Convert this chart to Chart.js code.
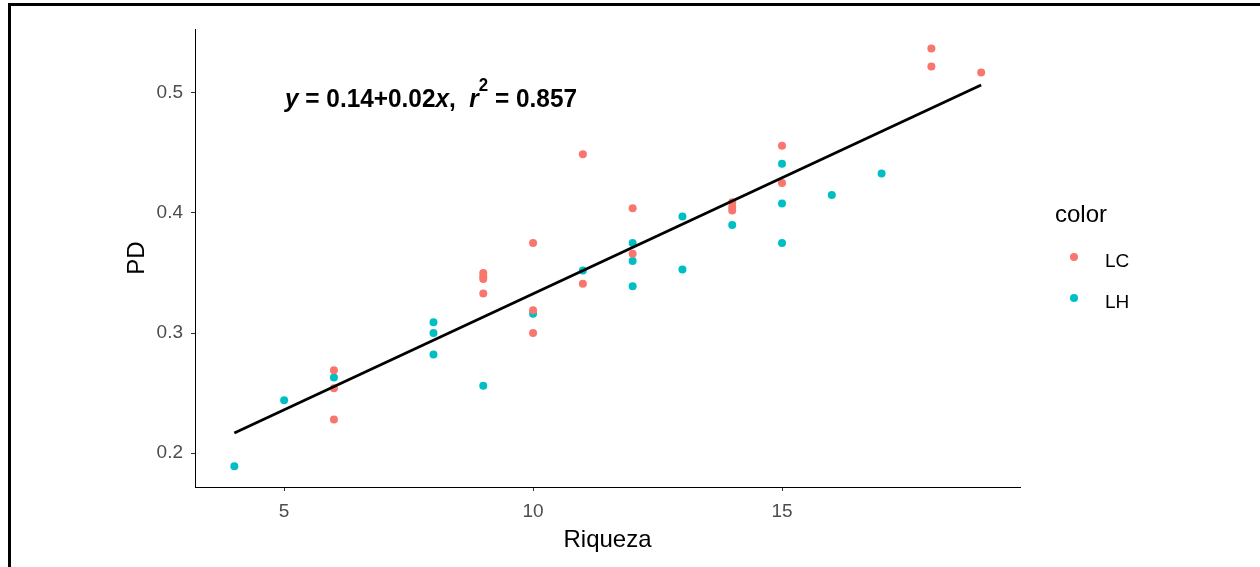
<!DOCTYPE html>
<html>
<head>
<meta charset="utf-8">
<script src="https://cdn.jsdelivr.net/npm/chart.js@4/dist/chart.umd.min.js"></script>
<style>
  html, body { margin: 0; padding: 0; background: #fff; }
</style>
</head>
<body>
<canvas id="scatter-chart" width="1260" height="567"></canvas>
<script>
// LC points (Riqueza, PD)
var lcX = [6, 6, 6, 9, 9, 9, 9, 10, 10, 10, 11, 11, 12, 12, 14, 14, 14, 15, 15, 18, 18, 19];
var lcY = [0.269, 0.254, 0.228, 0.350, 0.347, 0.345, 0.333, 0.375, 0.319, 0.300, 0.449, 0.341,
           0.404, 0.366, 0.409, 0.405, 0.402, 0.456, 0.425, 0.537, 0.522, 0.517];
// LH points
var lhX = [4, 5, 6, 8, 8, 8, 9, 10, 11, 12, 12, 12, 13, 13, 14, 15, 15, 15, 16, 17];
var lhY = [0.189, 0.244, 0.263, 0.309, 0.300, 0.282, 0.256, 0.316, 0.352, 0.375, 0.360, 0.339,
           0.397, 0.353, 0.390, 0.441, 0.408, 0.375, 0.415, 0.433];

var xTicks = [5, 10, 15];
var yTicks = [0.2, 0.3, 0.4, 0.5];

// fitted line y = a + b*x
var fitA = 0.1393;
var fitB = 0.01933;
var fitR2 = '0.857';

var allX = lcX.concat(lhX);
var xMin = Math.min.apply(null, allX);
var xMax = Math.max.apply(null, allX);

function pairs(xs, ys) {
  return xs.map(function (x, i) { return { x: x, y: ys[i] }; });
}

var tickFont = { family: 'Liberation Sans, Arial, sans-serif', size: 19 };
var titleFont = { family: 'Liberation Sans, Arial, sans-serif', size: 24 };

var overlay = {
  id: 'overlay',
  afterDraw: function (chart) {
    var ctx = chart.ctx;
    var area = chart.chartArea;
    ctx.save();

    // outer frame (top and left edges)
    ctx.fillStyle = '#000';
    ctx.fillRect(8, 3, 1252, 3);
    ctx.fillRect(8, 3, 3, 564);

    // equation label
    var parts = [
      { t: 'y', it: true }, { t: ' = ' }, { t: '0.14+0.02' }, { t: 'x', it: true },
      { t: ',  ' }, { t: 'r', it: true }, { t: '2', sup: true }, { t: ' = ' + fitR2 }
    ];
    var fam = 'Liberation Sans Narrow, Liberation Sans, Arial, sans-serif';
    function fontOf(p) {
      if (p.sup) return 'bold 18px ' + fam;
      return (p.it ? 'italic ' : '') + 'bold 26px ' + fam;
    }
    var total = 0;
    parts.forEach(function (p) { ctx.font = fontOf(p); p.w = ctx.measureText(p.t).width; total += p.w; });
    var sx = 292 / total;
    ctx.translate(area.left + 90, area.top + 78);
    ctx.scale(sx, 1);
    ctx.fillStyle = '#000';
    ctx.textBaseline = 'alphabetic';
    ctx.textAlign = 'left';
    var cx = 0;
    parts.forEach(function (p) {
      ctx.font = fontOf(p);
      ctx.fillText(p.t, cx, p.sup ? -16 : 0);
      cx += p.w;
    });
    ctx.restore();

    // legend
    var lfam = 'Liberation Sans, Arial, sans-serif';
    ctx.save();
    ctx.fillStyle = '#000';
    ctx.textAlign = 'left';
    ctx.textBaseline = 'alphabetic';
    ctx.font = '24px ' + lfam;
    ctx.fillText('color', area.right + 35, 222);
    var items = [chart.data.datasets[1], chart.data.datasets[2]];
    items.forEach(function (ds, i) {
      var y = 257 + i * 41;
      ctx.beginPath();
      ctx.arc(area.right + 54, y, 4, 0, Math.PI * 2);
      ctx.fillStyle = ds.backgroundColor;
      ctx.fill();
      ctx.fillStyle = '#000';
      ctx.font = '19px ' + lfam;
      ctx.fillText(ds.label, area.right + 85, y + 10);
    });
    ctx.restore();
  }
};

var myChart = new Chart(document.getElementById('scatter-chart'), {
  type: 'scatter',
  data: {
    datasets: [
      {
        type: 'line',
        label: 'fit',
        data: [{ x: xMin, y: fitA + fitB * xMin }, { x: xMax, y: fitA + fitB * xMax }],
        borderColor: '#000',
        borderWidth: 2.8,
        pointRadius: 0,
        fill: false
      },
      {
        label: 'LC',
        data: pairs(lcX, lcY),
        backgroundColor: '#F8766D',
        borderWidth: 0,
        pointRadius: 4
      },
      {
        label: 'LH',
        data: pairs(lhX, lhY),
        backgroundColor: '#00BFC4',
        borderWidth: 0,
        pointRadius: 4
      }
    ]
  },
  options: {
    responsive: false,
    animation: false,
    devicePixelRatio: 1,
    layout: { padding: { top: 29, right: 240, left: 0, bottom: 0 } },
    plugins: { legend: { display: false }, tooltip: { enabled: false } },
    scales: {
      x: {
        type: 'linear',
        min: 3.21,
        max: 19.78,
        afterBuildTicks: function (s) { s.ticks = xTicks.map(function (v) { return { value: v }; }); },
        afterFit: function (s) { s.height = 80; },
        grid: { drawOnChartArea: false, tickLength: 4, tickColor: '#333', tickWidth: 1 },
        border: { color: '#000', width: 1 },
        ticks: { color: '#4d4d4d', font: tickFont, padding: 9, maxRotation: 0,
                 callback: function (v) { return String(v); } },
        title: { display: true, text: 'Riqueza', color: '#000', font: titleFont,
                 padding: { top: 0, bottom: 12 } }
      },
      y: {
        type: 'linear',
        min: 0.1717,
        max: 0.5533,
        afterBuildTicks: function (s) { s.ticks = yTicks.map(function (v) { return { value: v }; }); },
        afterFit: function (s) { s.width = 195; },
        grid: { drawOnChartArea: false, tickLength: 4, tickColor: '#333', tickWidth: 1 },
        border: { color: '#000', width: 1 },
        ticks: { color: '#4d4d4d', font: tickFont, padding: 8,
                 callback: function (v) { return String(v); } },
        title: { display: true, text: 'PD', color: '#000', font: titleFont,
                 padding: { top: 123, bottom: 0 } }
      }
    }
  },
  plugins: [overlay]
});
</script>
</body>
</html>
